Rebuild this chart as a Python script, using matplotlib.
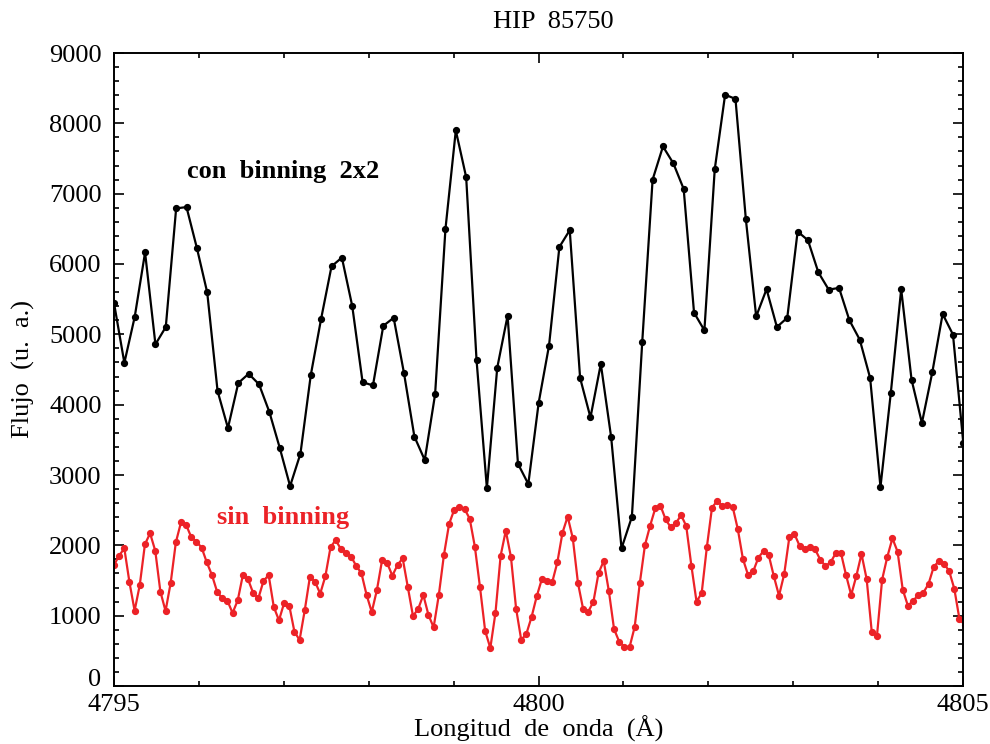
import numpy as np
import matplotlib
matplotlib.use("Agg")
import matplotlib.pyplot as plt
from matplotlib.ticker import MultipleLocator, FuncFormatter

# flux with 2x2 binning (black), step ~0.122 A starting at 4795
flux_bin = [
    5446, 4595, 5248, 6164, 4858, 5104, 6791, 6809, 6229, 5595,
    4194, 3668, 4308, 4439, 4290, 3896, 3387, 2842, 3303, 4422,
    5224, 5966, 6091, 5403, 4320, 4273, 5121, 5235, 4446, 3547,
    3213, 4146, 6498, 7899, 7235, 4638, 2812, 4525, 5265, 3160,
    2872, 4027, 4840, 6242, 6481, 4380, 3818, 4579, 3536, 1957,
    2405, 4894, 7199, 7671, 7432, 7067, 5308, 5057, 7348, 8407,
    8347, 6641, 5254, 5642, 5104, 5235, 6462, 6337, 5882, 5636,
    5660, 5200, 4924, 4380, 2830, 4170, 5642, 4355, 3740, 4458,
    5290, 4996, 3450,
]
step_bin = 0.1220

# flux without binning (red), step ~0.0607 A starting at 4795
flux_nobin = [
    1721, 1853, 1958, 1474, 1071, 1436, 2015, 2171, 1924, 1341,
    1066, 1469, 2043, 2328, 2289, 2114, 2052, 1967, 1758, 1578,
    1341, 1247, 1213, 1038, 1218, 1578, 1517, 1322, 1247, 1493,
    1578, 1123, 934, 1180, 1142, 772, 654, 1076, 1550, 1483,
    1313, 1560, 1972, 2076, 1948, 1896, 1839, 1706, 1602, 1294,
    1052, 1365, 1787, 1745, 1569, 1721, 1815, 1403, 995, 1095,
    1294, 1010, 834, 1289, 1863, 2303, 2507, 2541, 2517, 2379,
    1981, 1403, 782, 540, 1042, 1853, 2208, 1834, 1100, 654,
    744, 981, 1275, 1521, 1493, 1474, 1758, 2180, 2408, 2100,
    1465, 1095, 1057, 1199, 1607, 1777, 1346, 810, 630, 559,
    550, 839, 1465, 2005, 2280, 2527, 2564, 2370, 2256, 2313,
    2431, 2275, 1711, 1199, 1322, 1972, 2536, 2631, 2560, 2574,
    2550, 2233, 1806, 1578, 1631, 1825, 1920, 1863, 1560, 1284,
    1588, 2114, 2161, 1991, 1944, 1972, 1944, 1796, 1706, 1758,
    1887, 1896, 1578, 1294, 1564, 1877, 1521, 763, 711, 1512,
    1834, 2100, 1910, 1370, 1142, 1209, 1294, 1327, 1450, 1692,
    1777, 1739, 1635, 1384, 953, 870,
]
step_nobin = 0.06072

lam0 = 4795.0
lam_bin = lam0 + step_bin * np.arange(len(flux_bin))
lam_nobin = lam0 + step_nobin * np.arange(len(flux_nobin))

RED = '#ec2227'
FONT = 'Liberation Serif'

plt.rcParams['font.family'] = FONT

fig = plt.figure(figsize=(9.9, 7.44), dpi=100)
ax = fig.add_axes([114 / 990, 58 / 744, 849 / 990, 633 / 744])

ax.plot(lam_bin, flux_bin, color='black', lw=1.6, marker='o', ms=4.2)
ax.plot(lam_nobin, flux_nobin, color=RED, lw=1.6, marker='o', ms=4.2)

ax.set_xlim(4795, 4805)
ax.set_ylim(0, 9000)

ax.xaxis.set_major_locator(MultipleLocator(5))
ax.xaxis.set_minor_locator(MultipleLocator(1))
ax.yaxis.set_major_locator(MultipleLocator(1000))
ax.yaxis.set_minor_locator(MultipleLocator(200))
ax.tick_params(which='both', direction='in', top=True, right=True, width=1.2)
ax.tick_params(which='major', length=7.5)
ax.tick_params(which='minor', length=3.8)
ax.tick_params(axis='x', labelsize=19, pad=5.5)
ax.tick_params(axis='y', labelsize=19, pad=9)
for s in ax.spines.values():
    s.set_linewidth(1.4)

# the "0" is drawn by hand, sitting on the axis, so it clears "4795"
ax.yaxis.set_major_formatter(FuncFormatter(lambda v, p: '' if v == 0 else f'{v:.0f}'))
ax.text(-13 / 849, 0, '0', transform=ax.get_yaxis_transform(),
        fontsize=19, ha='right', va='baseline')

ax.set_xlabel('Longitud  de  onda  (\u00c5)', fontsize=19, labelpad=0)
ax.set_ylabel('Flujo  (u.  a.)', fontsize=19, labelpad=10)
# title sits a little right of the axes centre in the original
ax.text(0.518, 1.0 + 31 / 633, 'HIP  85750', transform=ax.transAxes,
        fontsize=19, ha='center', va='center')

ax.text(4795.86, 7310, 'con  binning  2x2', fontsize=19, fontweight='bold',
        color='black', ha='left', va='center')
ax.text(4796.21, 2400, 'sin  binning', fontsize=19, fontweight='bold',
        color=RED, ha='left', va='center')

fig.savefig('out.png', dpi=100)
